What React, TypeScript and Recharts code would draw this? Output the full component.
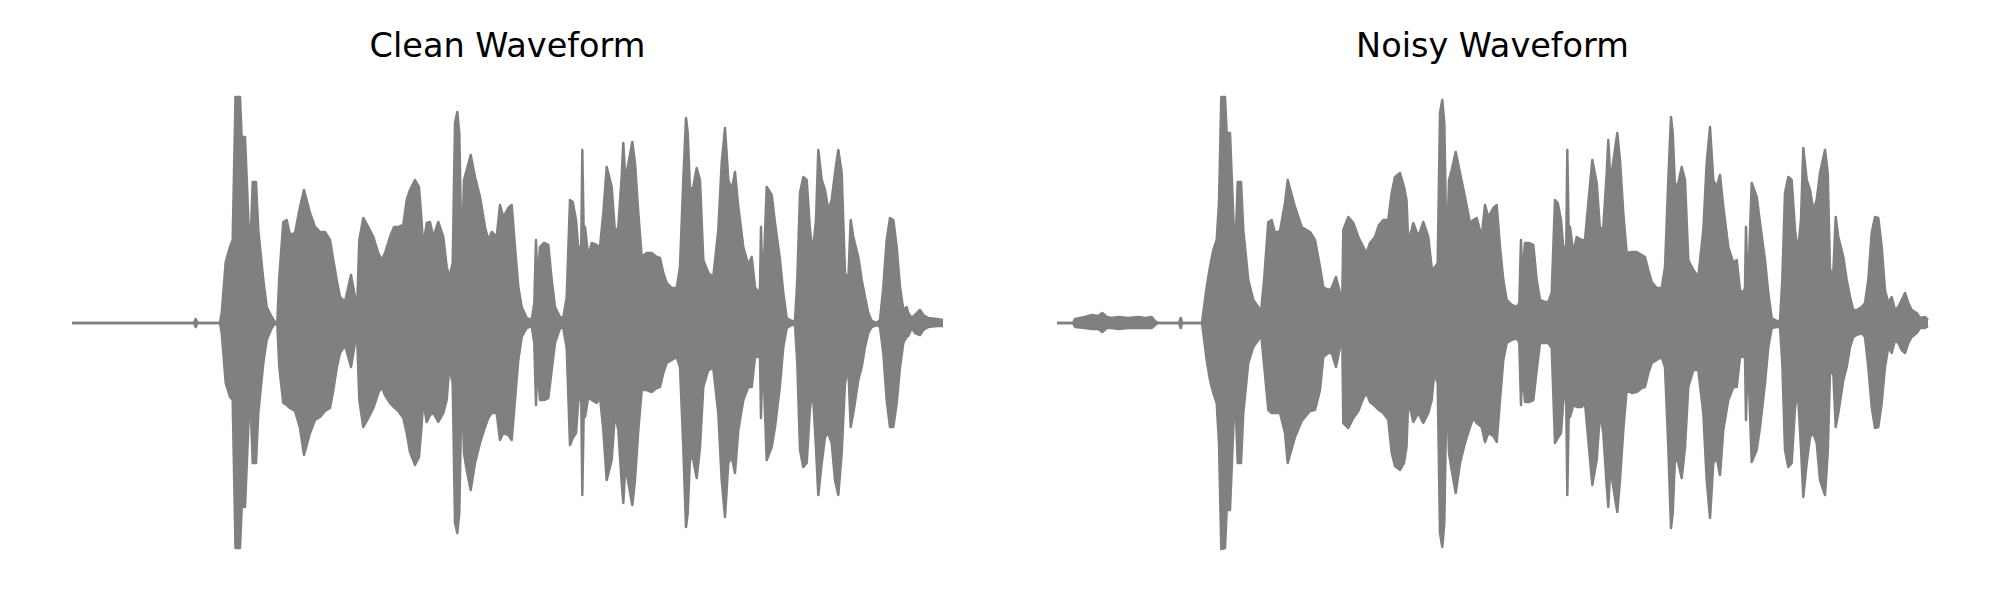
import { Area, ComposedChart, XAxis, YAxis } from 'recharts';

// envelope of each waveform: time index, upper and lower amplitude
const cleanTime = [
  0, 122, 123.7, 125.5, 148, 149.7, 153.7, 158, 160.7, 163.5, 168, 169.7, 173, 178, 180.7, 184, 186.3, 191.3, 194.7, 199.7,
  203, 205.3, 207.3, 211.3, 214.7, 218, 223, 228, 232, 238, 243, 248, 253, 258, 261.3, 264.7, 268, 273, 279, 283,
  285.3, 287.3, 291.3, 296.3, 301.3, 306.3, 309.7, 313, 318, 322, 326.3, 331.3, 334.7, 338, 343, 347, 349.5, 351.3, 354.7, 358,
  361.3, 366.3, 371.3, 374.7, 377.3, 380.7, 383, 385.3, 387.3, 389.7, 392, 394.7, 398.7, 403, 408, 413, 416.3, 419.7, 424.7, 428,
  431.3, 436.3, 439.7, 443, 446.3, 449.7, 454.7, 459.7, 462.3, 464, 465.3, 468, 472, 476.3, 479.7, 483, 488, 491.3, 494.7, 498,
  500.7, 504, 507.3, 509.3, 510.3, 511.7, 513, 516.3, 519.7, 524.7, 528, 531.3, 534.7, 539.7, 543, 546.3, 549.7, 551.3, 553, 554.7,
  560.3, 563, 566.3, 569.7, 574.7, 579.7, 584.7, 588, 591.3, 594.7, 599.7, 604.7, 608, 611.3, 614, 615.7, 618, 621.3, 624.7, 628,
  631.3, 636.3, 641.3, 646.3, 649.7, 653, 656.3, 659.7, 663, 666.3, 671.3, 676.3, 679.7, 683, 686.3, 688, 689, 690.3, 692.3, 694.7,
  699.7, 703, 708, 711.3, 714.7, 719.7, 723, 725.3, 728, 731.3, 734.7, 738, 740.7, 744, 746.3, 749.7, 753, 756.3, 759.7, 763,
  766.3, 769.7, 773, 776.3, 778.7, 781.3, 786.3, 789.7, 793, 796.3, 799.7, 804.7, 808, 811.3, 814.7, 818, 821.3, 824.7, 828, 831.3,
  834.7, 836.3, 839.7, 843, 848, 851.3, 856.3, 864.7, 871,
];
const cleanUpper = [
  0, 0, 4, 0, 0, 10, 61, 76, 83, 226, 226, 186, 186, 63, 141, 141, 93, 43, 16, 6,
  1, 1, 46, 101, 103, 88, 90, 116, 133, 110, 96, 91, 91, 83, 63, 43, 26, 21, 48, 26,
  20, 83, 105, 96, 86, 70, 63, 70, 86, 96, 96, 98, 123, 133, 143, 136, 103, 76, 100, 101,
  86, 101, 86, 56, 46, 60, 200, 211, 190, 60, 143, 153, 168, 146, 126, 96, 83, 91, 86, 118,
  106, 115, 118, 76, 36, 16, 5, 3, 20, 83, 40, 76, 80, 78, 43, 16, 6, 5, 26, 123,
  121, 103, 63, 80, 173, 90, 96, 66, 80, 78, 76, 110, 156, 136, 90, 96, 146, 180, 150, 150,
  181, 160, 110, 66, 70, 70, 66, 65, 50, 40, 35, 35, 56, 143, 205, 190, 133, 136, 155, 143,
  63, 50, 46, 93, 160, 195, 143, 133, 151, 116, 76, 58, 66, 36, 30, 35, 96, 45, 70, 136,
  128, 100, 63, 30, 5, 2, 2, 43, 130, 146, 143, 93, 70, 103, 173, 143, 133, 113, 123, 150,
  173, 150, 50, 43, 103, 86, 66, 43, 26, 10, 2, 0, 3, 36, 83, 105, 103, 76, 36, 13,
  16, 10, 5, 8, 13, 8, 5, 4, 3,
];
const cleanLower = [
  0, 0, -4, 0, 0, -10, -60, -74, -77, -225, -225, -184, -184, -64, -140, -140, -90, -40, -17, -5,
  -1, -1, -44, -80, -82, -85, -88, -105, -132, -110, -97, -94, -88, -85, -67, -45, -30, -22, -44, -20,
  -18, -77, -104, -95, -85, -70, -64, -72, -80, -84, -88, -95, -110, -129, -142, -134, -104, -77, -99, -92,
  -90, -99, -90, -77, -44, -60, -200, -210, -190, -57, -130, -147, -167, -140, -120, -104, -95, -90, -90, -117,
  -110, -112, -117, -77, -37, -14, -5, -3, -20, -82, -40, -77, -77, -75, -47, -20, -5, -5, -25, -122,
  -115, -110, -64, -80, -172, -90, -94, -74, -77, -80, -74, -107, -157, -137, -90, -107, -160, -180, -150, -150,
  -182, -157, -107, -67, -67, -69, -65, -64, -50, -40, -37, -34, -44, -124, -204, -190, -134, -137, -155, -124,
  -64, -47, -45, -90, -157, -194, -140, -134, -150, -107, -77, -64, -64, -34, -34, -34, -95, -45, -70, -137,
  -124, -104, -62, -24, -5, -2, -2, -40, -127, -144, -140, -85, -67, -125, -172, -140, -114, -110, -120, -157,
  -172, -130, -60, -45, -104, -90, -57, -44, -24, -10, -4, -2, -4, -30, -77, -104, -104, -80, -44, -20,
  -14, -13, -5, -10, -12, -7, -4, -3, -3,
];

const noisyTime = [
  0, 16, 18, 28, 35, 41.3, 45.3, 49.7, 54.7, 61.3, 71.3, 81.3, 88, 94.7, 98, 101, 122, 123.7, 125.3, 145,
  146.3, 149.7, 153, 156.3, 159.7, 162, 164.3, 168, 169.7, 173, 178, 180.7, 184, 186.3, 191.3, 196.3, 201.3, 204, 207.3, 211.3,
  214.7, 218, 223, 228, 230.7, 238, 244.7, 253, 258, 263, 266.3, 271.3, 274.7, 279, 283, 285.3, 286.3, 291.3, 296.3, 301.3,
  306.3, 309.7, 313, 318, 322, 326.3, 331.3, 334.7, 338, 343, 347, 349.5, 351.3, 356.3, 361.3, 366.3, 371.3, 374.7, 377.3, 380.7,
  383, 385.3, 387.3, 389.7, 392, 394.7, 398.7, 403, 408, 413, 416.3, 419.7, 424.7, 428, 431.3, 436.3, 439.7, 443, 446.3, 449.7,
  454.7, 459.7, 462.3, 464, 465.3, 468, 472, 476.3, 479.7, 483, 488, 491.3, 494.7, 498, 500.7, 504, 507.3, 509.3, 510.3, 511.7,
  513, 516.3, 519.7, 524.7, 528, 531.3, 535.3, 539.7, 543, 546.3, 549.7, 551.3, 553, 554.7, 560.3, 563, 566.3, 569.7, 574.7, 579.7,
  584.7, 588, 591.3, 594.7, 599.7, 604.7, 608, 611.3, 614, 615.7, 618, 621.3, 624.7, 628, 631.3, 636.3, 641.3, 646.3, 649.7, 653,
  656.3, 659.7, 663, 666.3, 671.3, 676.3, 679.7, 683, 686.3, 688, 689, 690.3, 692.3, 694.7, 699.7, 703, 708, 711.3, 714.7, 719.7,
  723, 725.3, 728, 731.3, 734.7, 738, 740.7, 744, 746.3, 749.7, 753, 756.3, 759.7, 763, 768, 770.7, 773, 776.3, 778.7, 781.3,
  786.3, 789.7, 793, 796.3, 799.7, 804.7, 808, 811.3, 814.7, 818, 821.3, 824.7, 828, 831.3, 834.7, 838, 841.3, 844.7, 848, 851.3,
  854.7, 859.7, 863, 868, 871,
];
const noisyUpper = [
  0, 0, 4, 6, 8, 7, 10, 6, 5, 6, 5, 6, 5, 6, 2, 0, 0, 5, 0, 0,
  10, 36, 56, 73, 83, 120, 226, 226, 190, 190, 63, 141, 141, 93, 43, 23, 16, 11, 46, 101,
  103, 90, 92, 120, 143, 116, 96, 91, 83, 56, 36, 33, 35, 46, 30, 25, 93, 106, 100, 86,
  76, 70, 80, 86, 98, 103, 103, 130, 146, 150, 136, 123, 80, 100, 86, 101, 86, 55, 55, 60,
  210, 223, 200, 60, 143, 153, 171, 150, 126, 100, 103, 105, 86, 118, 106, 115, 118, 76, 43, 23,
  18, 16, 20, 83, 45, 80, 80, 78, 43, 23, 21, 21, 30, 123, 120, 103, 63, 80, 173, 90,
  96, 70, 86, 83, 83, 120, 163, 140, 93, 96, 150, 183, 150, 150, 190, 163, 110, 70, 71, 71,
  68, 66, 53, 41, 35, 35, 56, 143, 206, 190, 136, 140, 156, 143, 63, 53, 46, 93, 160, 196,
  143, 136, 148, 116, 76, 60, 63, 33, 30, 35, 96, 45, 70, 140, 126, 100, 63, 30, 5, 2,
  2, 43, 130, 146, 143, 93, 70, 103, 175, 143, 133, 113, 123, 150, 173, 150, 53, 50, 106, 86,
  66, 43, 26, 13, 13, 16, 20, 43, 90, 106, 105, 76, 33, 20, 26, 13, 16, 23, 30, 20,
  13, 10, 5, 6, 3,
];
const noisyLower = [
  0, 0, -4, -5, -6, -6, -9, -5, -5, -6, -5, -5, -5, -5, -2, 0, 0, -5, 0, 0,
  -10, -37, -57, -70, -80, -120, -226, -225, -187, -187, -64, -140, -140, -90, -40, -24, -17, -10, -44, -87,
  -90, -90, -90, -110, -140, -114, -98, -88, -87, -67, -34, -30, -30, -44, -24, -20, -100, -105, -95, -88,
  -75, -70, -79, -83, -87, -90, -97, -130, -143, -147, -140, -124, -77, -99, -90, -100, -90, -77, -50, -60,
  -210, -224, -200, -57, -130, -147, -170, -140, -120, -104, -95, -100, -104, -119, -110, -113, -119, -77, -37, -20,
  -17, -15, -20, -82, -45, -79, -79, -77, -47, -20, -20, -20, -25, -120, -115, -110, -64, -80, -172, -90,
  -94, -82, -84, -84, -80, -117, -162, -137, -90, -110, -163, -184, -150, -154, -189, -157, -107, -67, -70, -69,
  -65, -64, -50, -40, -37, -34, -44, -124, -205, -190, -134, -140, -155, -124, -64, -47, -47, -90, -157, -195,
  -140, -135, -152, -107, -77, -64, -64, -34, -34, -34, -97, -45, -70, -139, -127, -104, -60, -24, -5, -4,
  -4, -40, -127, -144, -140, -85, -67, -125, -174, -140, -114, -110, -120, -157, -172, -130, -50, -50, -104, -90,
  -57, -44, -24, -14, -12, -10, -14, -44, -84, -105, -104, -80, -44, -24, -30, -17, -20, -27, -30, -20,
  -14, -10, -5, -5, -3,
];

const WAVE_COLOR = '#808080';

interface WaveformPanelProps {
  title: string;
  time: number[];
  upper: number[];
  lower: number[];
  left: number;
  marginLeft: number;
  marginRight: number;
}

const WaveformPanel = ({ title, time, upper, lower, left, marginLeft, marginRight }: WaveformPanelProps) => {
  const chartData = time.map((t, i) => ({ t, range: [lower[i], upper[i]] }));
  const plotCenter = marginLeft + (1000 - marginLeft - marginRight) / 2;

  return (
    <div style={{ position: 'absolute', left, top: 0, width: 1000, height: 600 }}>
      <ComposedChart
        width={1000}
        height={600}
        data={chartData}
        margin={{ top: 73, right: marginRight, bottom: 27, left: marginLeft }}
      >
        <XAxis dataKey="t" type="number" domain={[0, 871]} hide />
        <YAxis type="number" domain={[-250, 250]} hide />
        <Area
          type="linear"
          dataKey="range"
          fill={WAVE_COLOR}
          fillOpacity={1}
          stroke={WAVE_COLOR}
          strokeWidth={2.5}
          strokeLinejoin="round"
          dot={false}
          activeDot={false}
          isAnimationActive={false}
        />
      </ComposedChart>
      <svg
        width={1000}
        height={80}
        style={{ position: 'absolute', left: 0, top: 0, pointerEvents: 'none' }}
      >
        <text x={plotCenter} y={57} textAnchor="middle" fontFamily="'DejaVu Sans', sans-serif" fontSize={33.5} fill="#000">
          {title}
        </text>
      </svg>
    </div>
  );
};

export default function App() {
  return (
    <div style={{ position: 'absolute', left: 0, top: 0, width: 2000, height: 600, background: '#fff' }}>
      <WaveformPanel
        title="Clean Waveform"
        time={cleanTime}
        upper={cleanUpper}
        lower={cleanLower}
        left={0}
        marginLeft={72}
        marginRight={57}
      />
      <WaveformPanel
        title="Noisy Waveform"
        time={noisyTime}
        upper={noisyUpper}
        lower={noisyLower}
        left={1000}
        marginLeft={57}
        marginRight={72}
      />
    </div>
  );
}
